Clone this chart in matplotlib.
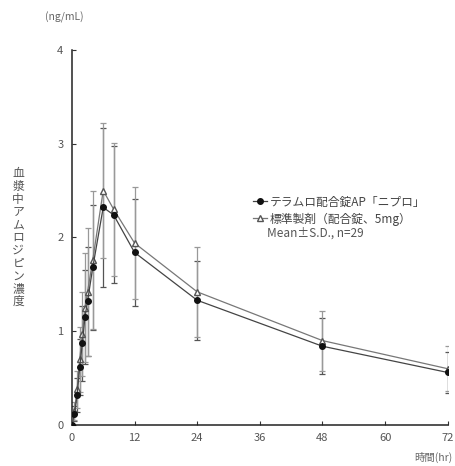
"""Plasma concentration-time profile, test vs reference formulation."""

import matplotlib
matplotlib.use("Agg")
import matplotlib.pyplot as plt

plt.rcParams["font.family"] = ["Noto Sans CJK JP", "DejaVu Sans"]

# sampling times (hr)
times = [0, 0.5, 1, 1.5, 2, 2.5, 3, 4, 6, 8, 12, 24, 48, 72]

# test product (filled circle)
test_mean = [0, 0.12, 0.32, 0.62, 0.87, 1.15, 1.32, 1.68, 2.32, 2.24, 1.84, 1.33, 0.84, 0.56]
test_sd = [0, 0.08, 0.18, 0.30, 0.40, 0.50, 0.58, 0.67, 0.85, 0.73, 0.57, 0.42, 0.30, 0.22]

# reference product (open triangle)
ref_mean = [0, 0.15, 0.38, 0.70, 0.97, 1.25, 1.42, 1.76, 2.50, 2.30, 1.94, 1.42, 0.90, 0.60]
ref_sd = [0, 0.10, 0.20, 0.35, 0.45, 0.58, 0.68, 0.74, 0.72, 0.71, 0.60, 0.48, 0.32, 0.24]

x_ticks = [0, 12, 24, 36, 48, 60, 72]
y_ticks = [0, 1, 2, 3, 4]

test_label = "テラムロ配合錠AP「ニプロ」"
ref_label = "標準製剤（配合錠、5mg）"
stats_note = "Mean±S.D., n=29"
y_label = "血漿中アムロジピン濃度"

fig = plt.figure(figsize=(4.55, 4.66), dpi=100)
ax = fig.add_axes([0.158, 0.088, 0.826, 0.805])

ax.errorbar(times, test_mean, yerr=test_sd, fmt="none", ecolor="#555555",
            elinewidth=0.9, capsize=2.5, capthick=0.9, zorder=2)
ax.errorbar(times, ref_mean, yerr=ref_sd, fmt="none", ecolor="#999999",
            elinewidth=0.9, capsize=2.5, capthick=0.9, zorder=2)

h1, = ax.plot(times, test_mean, color="#444444", linewidth=0.9, marker="o",
              markersize=4, markerfacecolor="#111111", markeredgecolor="#111111",
              zorder=4)
h2, = ax.plot(times, ref_mean, color="#777777", linewidth=0.9, marker="^",
              markersize=4.5, markerfacecolor="white", markeredgecolor="#555555",
              zorder=3)

ax.set_xlim(0, 72)
ax.set_ylim(0, 4)
ax.set_xticks(x_ticks)
ax.set_yticks(y_ticks)
ax.tick_params(direction="in", length=3, width=0.8, labelsize=8,
               colors="#333333", labelcolor="#555555", pad=6)
for side in ("top", "right"):
    ax.spines[side].set_visible(False)
for side in ("left", "bottom"):
    ax.spines[side].set_linewidth(1.1)
    ax.spines[side].set_color("#222222")

leg = ax.legend([h1, h2], [test_label, ref_label], loc="upper left",
                bbox_to_anchor=(0.47, 0.625), frameon=False, fontsize=8.5,
                handlelength=1.2, handletextpad=0.2, labelspacing=0.35,
                borderaxespad=0)
for t in leg.get_texts():
    t.set_color("#444444")
ax.text(0.52, 0.512, stats_note, transform=ax.transAxes, fontsize=8.5,
        color="#555555", va="center")

fig.text(0.1, 0.955, "(ng/mL)", fontsize=7.5, color="#666666", ha="left")
fig.text(0.995, 0.012, "時間(hr)", fontsize=7.5, color="#666666", ha="right")
fig.text(0.04, 0.49, "\n".join(y_label), fontsize=8.5, color="#555555",
         ha="center", va="center", linespacing=0.98)

fig.savefig("out.png", dpi=100)
